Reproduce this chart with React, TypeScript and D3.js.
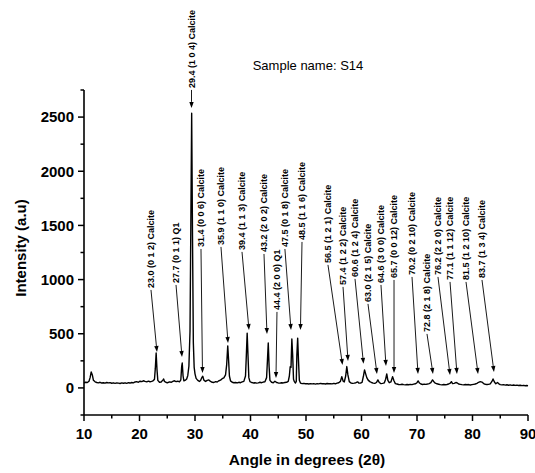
import React, { useEffect } from 'react';
import * as d3 from 'd3';

// ---- Data ----
const angles = [
  10.0, 10.3, 10.6, 10.9, 11.1, 11.3, 11.5, 11.7, 12.0, 12.3, 12.6, 12.9, 13.2, 13.5, 13.8, 14.1, 14.4, 14.7,
  15.0, 15.3, 15.6, 15.9, 16.2, 16.5, 16.8, 17.1, 17.4, 17.7, 18.0, 18.3, 18.6, 18.9, 19.2, 19.5, 19.8,
  20.1, 20.4, 20.7, 21.0, 21.3, 21.6, 21.9, 22.2, 22.5, 22.7, 22.85, 23.0, 23.15, 23.3, 23.6, 23.9, 24.2,
  24.35, 24.5, 24.8, 25.1, 25.4, 25.7, 26.0, 26.3, 26.6, 26.9, 27.2, 27.45, 27.6, 27.7, 27.85, 28.0, 28.3,
  28.5, 28.7, 28.9, 29.1, 29.25, 29.4, 29.55, 29.7, 29.85, 30.0, 30.2, 30.5, 30.8, 31.0, 31.2, 31.4, 31.6,
  31.9, 32.2, 32.5, 32.8, 33.1, 33.4, 33.7, 34.0, 34.3, 34.6, 34.9, 35.2, 35.5, 35.7, 35.9, 36.05, 36.2,
  36.4, 36.7, 37.0, 37.3, 37.6, 37.9, 38.2, 38.5, 38.8, 39.1, 39.25, 39.4, 39.55, 39.7, 39.9, 40.2, 40.5,
  40.8, 41.1, 41.4, 41.7, 42.0, 42.3, 42.6, 42.9, 43.05, 43.2, 43.35, 43.5, 43.8, 44.1, 44.4, 44.7, 45.0,
  45.3, 45.6, 45.9, 46.2, 46.5, 46.8, 47.0, 47.15, 47.3, 47.45, 47.6, 47.75, 47.9, 48.1, 48.25, 48.35, 48.5,
  48.65, 48.8, 49.0, 49.3, 49.6, 49.9, 50.2, 50.5, 50.8, 51.1, 51.4, 51.7, 52.0, 52.3, 52.6, 52.9, 53.2,
  53.5, 53.8, 54.1, 54.4, 54.7, 55.0, 55.3, 55.6, 55.9, 56.2, 56.45, 56.7, 56.9, 57.15, 57.35, 57.55, 57.8,
  58.1, 58.4, 58.7, 59.0, 59.3, 59.5, 59.8, 60.1, 60.35, 60.55, 60.75, 60.95, 61.2, 61.5, 61.8, 62.1, 62.4,
  62.7, 62.95, 63.2, 63.5, 63.8, 64.1, 64.35, 64.55, 64.75, 65.0, 65.3, 65.6, 65.85, 66.1, 66.4, 66.7, 67.0,
  67.3, 67.6, 67.9, 68.2, 68.5, 68.8, 69.1, 69.4, 69.7, 70.0, 70.2, 70.45, 70.7, 71.0, 71.3, 71.6, 71.9,
  72.2, 72.5, 72.8, 73.0, 73.3, 73.6, 73.9, 74.2, 74.5, 74.8, 75.1, 75.4, 75.7, 76.0, 76.2, 76.4, 76.7,
  77.0, 77.2, 77.5, 77.8, 78.1, 78.4, 78.7, 79.0, 79.3, 79.6, 79.9, 80.2, 80.5, 80.8, 81.1, 81.4, 81.7,
  82.0, 82.3, 82.6, 82.9, 83.2, 83.5, 83.7, 83.95, 84.2, 84.5, 84.75, 85.0, 85.3, 85.6, 85.9, 86.2, 86.5,
  86.8, 87.1, 87.4, 87.7, 88.0, 88.3, 88.6, 88.9, 89.2, 89.5, 89.8, 90.0,
];

const intensities = [
  48, 52, 50, 62, 95, 148, 120, 70, 56, 50, 47, 52, 45, 48, 44, 50, 46, 49,
  43, 47, 42, 46, 44, 41, 46, 43, 47, 42, 48, 45, 50, 47, 55, 58, 52,
  62, 58, 66, 60, 56, 63, 57, 60, 68, 80, 180, 322, 170, 70, 52, 55, 72,
  82, 60, 50, 48, 56, 52, 60, 66, 58, 62, 56, 75, 200, 230, 110, 66, 72,
  82, 115, 200, 520, 1500, 2535, 1400, 420, 190, 130, 88, 70, 60, 68, 92, 108, 72,
  60, 70, 74, 60, 52, 50, 58, 55, 66, 72, 85, 92, 120, 210, 388, 260, 110,
  65, 52, 48, 50, 46, 52, 48, 55, 60, 110, 300, 506, 300, 95, 58, 50, 46,
  48, 44, 47, 52, 48, 54, 56, 95, 250, 415, 200, 70, 52, 48, 62, 50, 46,
  44, 48, 46, 50, 52, 60, 110, 195, 190, 452, 300, 80, 58, 45, 60, 300, 460,
  250, 70, 45, 40, 42, 38, 40, 36, 40, 37, 39, 35, 40, 37, 42, 38, 40,
  36, 41, 38, 40, 37, 42, 38, 44, 48, 60, 104, 62, 55, 110, 197, 120, 58,
  45, 42, 44, 48, 56, 45, 44, 52, 110, 166, 130, 95, 72, 58, 50, 44, 42,
  50, 74, 50, 40, 42, 46, 80, 129, 70, 48, 55, 104, 66, 40, 36, 32, 30,
  34, 30, 28, 32, 29, 33, 30, 35, 38, 48, 65, 45, 36, 32, 35, 33, 36,
  40, 48, 74, 60, 44, 38, 34, 30, 28, 31, 29, 32, 36, 45, 58, 40, 42,
  50, 48, 36, 33, 30, 28, 32, 29, 31, 27, 30, 33, 36, 42, 52, 58, 54,
  40, 34, 31, 33, 38, 60, 83, 55, 38, 50, 38, 30, 28, 30, 26, 29, 25,
  28, 24, 27, 23, 26, 22, 25, 21, 24, 20, 22, 19,
];

const xTickValues = [10, 20, 30, 40, 50, 60, 70, 80, 90];
const xMinorTickValues = [15, 25, 35, 45, 55, 65, 75, 85];
const yTickValues = [0, 500, 1000, 1500, 2000, 2500];
const yMinorTickValues = [-250, 250, 750, 1250, 1750, 2250, 2750];

const peakLabels = [
  '23.0 (0 1 2) Calcite',
  '27.7 (0 1 1) Q1',
  '29.4 (1 0 4) Calcite',
  '31.4 (0 0 6) Calcite',
  '35.9 (1 1 0) Calcite',
  '39.4 (1 1 3) Calcite',
  '43.2 (2 0 2) Calcite',
  '44.4 (2 0 0) Q1',
  '47.5 (0 1 8) Calcite',
  '48.5 (1 1 6) Calcite',
  '56.5 (1 2 1) Calcite',
  '57.4 (1 2 2) Calcite',
  '60.6 (1 2 4) Calcite',
  '63.0 (2 1 5) Calcite',
  '64.6 (3 0 0) Calcite',
  '65.7 (0 0 12) Calcite',
  '70.2 (0 2 10) Calcite',
  '72.8 (2 1 8) Calcite',
  '76.2 (2 2 0) Calcite',
  '77.1 (1 1 12) Calcite',
  '81.5 (1 2 10) Calcite',
  '83.7 (1 3 4) Calcite',
];
// where each label sits (data coordinates: angle of text, intensity at text start)
const labelAngles = [22.07, 26.58, 29.37, 31.08, 34.68, 38.47, 42.43, 44.77, 46.2, 49.28, 53.96, 56.67, 58.83, 61.17, 63.51, 65.86, 69.1, 71.8, 73.78, 75.95, 78.83, 81.71];
const labelBases = [923, 969, 2769, 1301, 1320, 1274, 1255, 720, 1301, 1366, 1154, 951, 1025, 794, 969, 1015, 1043, 517, 1043, 997, 997, 1015];
// where each arrow points (data coordinates)
const tipAngles = [23.15, 27.66, 29.37, 31.35, 35.95, 39.73, 42.97, 44.59, 47.3, 49.0, 56.58, 57.57, 60.36, 62.79, 64.41, 65.86, 70.18, 72.88, 75.95, 77.2, 81.0, 83.87];
const tipIntensities = [332, 286, 2585, 138, 415, 535, 498, 92, 535, 535, 212, 249, 222, 129, 203, 138, 129, 129, 120, 129, 129, 148];

const W = 535;
const H = 473;
const FONT = "Arial, 'Liberation Sans', Helvetica, sans-serif";

export default function App() {
  useEffect(() => {
    document.body.style.margin = '0';
  }, []);

  const x = d3.scaleLinear().domain([10, 90]).range([84, 528]);
  const y = d3.scaleLinear().domain([-250, 2750]).range([415, 90]);

  const pts = angles.map((a, i) => [a, intensities[i]] as [number, number]);
  const line = d3
    .line<[number, number]>()
    .x((d) => x(d[0]))
    .y((d) => y(d[1]));

  const x0 = x(10);
  const yAxisBottom = y(-250);

  return (
    <svg
      width={W}
      height={H}
      viewBox={`0 0 ${W} ${H}`}
      style={{ position: 'absolute', left: 0, top: 0, background: '#fff' }}
      fontFamily={FONT}
    >
      <rect width={W} height={H} fill="#fff" />
      {/* title */}
      <text x={308} y={70} fontSize={13} textAnchor="middle" fill="#000">
        Sample name: S14
      </text>

      {/* data line */}
      <path d={line(pts) || ''} fill="none" stroke="#000" strokeWidth={1.4} strokeLinejoin="round" />

      {/* axes */}
      <line x1={x0} x2={x0} y1={y(2750)} y2={yAxisBottom} stroke="#000" strokeWidth={1.6} />
      <line x1={x0} x2={x(90)} y1={yAxisBottom} y2={yAxisBottom} stroke="#000" strokeWidth={1.6} />

      {yTickValues.map((v) => (
        <g key={'yt' + v}>
          <line x1={x0 - 6} x2={x0} y1={y(v)} y2={y(v)} stroke="#000" strokeWidth={1.5} />
          <text x={x0 - 10} y={y(v)} dy="0.36em" fontSize={15} fontWeight="bold" textAnchor="end" fill="#000">
            {v}
          </text>
        </g>
      ))}
      {yMinorTickValues.map((v) => (
        <line key={'ym' + v} x1={x0 - 3.5} x2={x0} y1={y(v)} y2={y(v)} stroke="#000" strokeWidth={1.5} />
      ))}
      {xTickValues.map((v) => (
        <g key={'xt' + v}>
          <line x1={x(v)} x2={x(v)} y1={yAxisBottom} y2={yAxisBottom + 6} stroke="#000" strokeWidth={1.5} />
          <text x={x(v)} y={439} fontSize={15} fontWeight="bold" textAnchor="middle" fill="#000">
            {v}
          </text>
        </g>
      ))}
      {xMinorTickValues.map((v) => (
        <line key={'xm' + v} x1={x(v)} x2={x(v)} y1={yAxisBottom} y2={yAxisBottom + 3.5} stroke="#000" strokeWidth={1.5} />
      ))}

      {/* axis titles */}
      <text x={307} y={465} fontSize={15.5} fontWeight="bold" textAnchor="middle" fill="#000">
        Angle in degrees (2θ)
      </text>
      <text
        transform={`translate(26,248) rotate(-90)`}
        fontSize={15}
        fontWeight="bold"
        textAnchor="middle"
        fill="#000"
      >
        Intensity (a.u)
      </text>

      {/* peak annotations */}
      {peakLabels.map((lab, i) => {
        const tx = x(labelAngles[i]);
        const ty = y(labelBases[i]);
        const ax = x(tipAngles[i]);
        const ay = y(tipIntensities[i]);
        const sx = tx;
        const sy = ty + 2;
        const dx = ax - sx;
        const dy = ay - sy;
        const len = Math.sqrt(dx * dx + dy * dy);
        const ux = dx / len;
        const uy = dy / len;
        const hl = 6;
        const hw = 2.2;
        const bx = ax - ux * hl;
        const by = ay - uy * hl;
        const head = `M${ax},${ay}L${bx - uy * hw},${by + ux * hw}L${bx + uy * hw},${by - ux * hw}Z`;
        return (
          <g key={'lab' + i}>
            <text
              transform={`translate(${tx},${ty}) rotate(-90)`}
              dy="0.35em"
              fontSize={9}
              fontWeight="bold"
              fill="#000"
            >
              {lab}
            </text>
            <line x1={sx} y1={sy} x2={bx} y2={by} stroke="#000" strokeWidth={0.9} />
            <path d={head} fill="#000" />
          </g>
        );
      })}
    </svg>
  );
}
